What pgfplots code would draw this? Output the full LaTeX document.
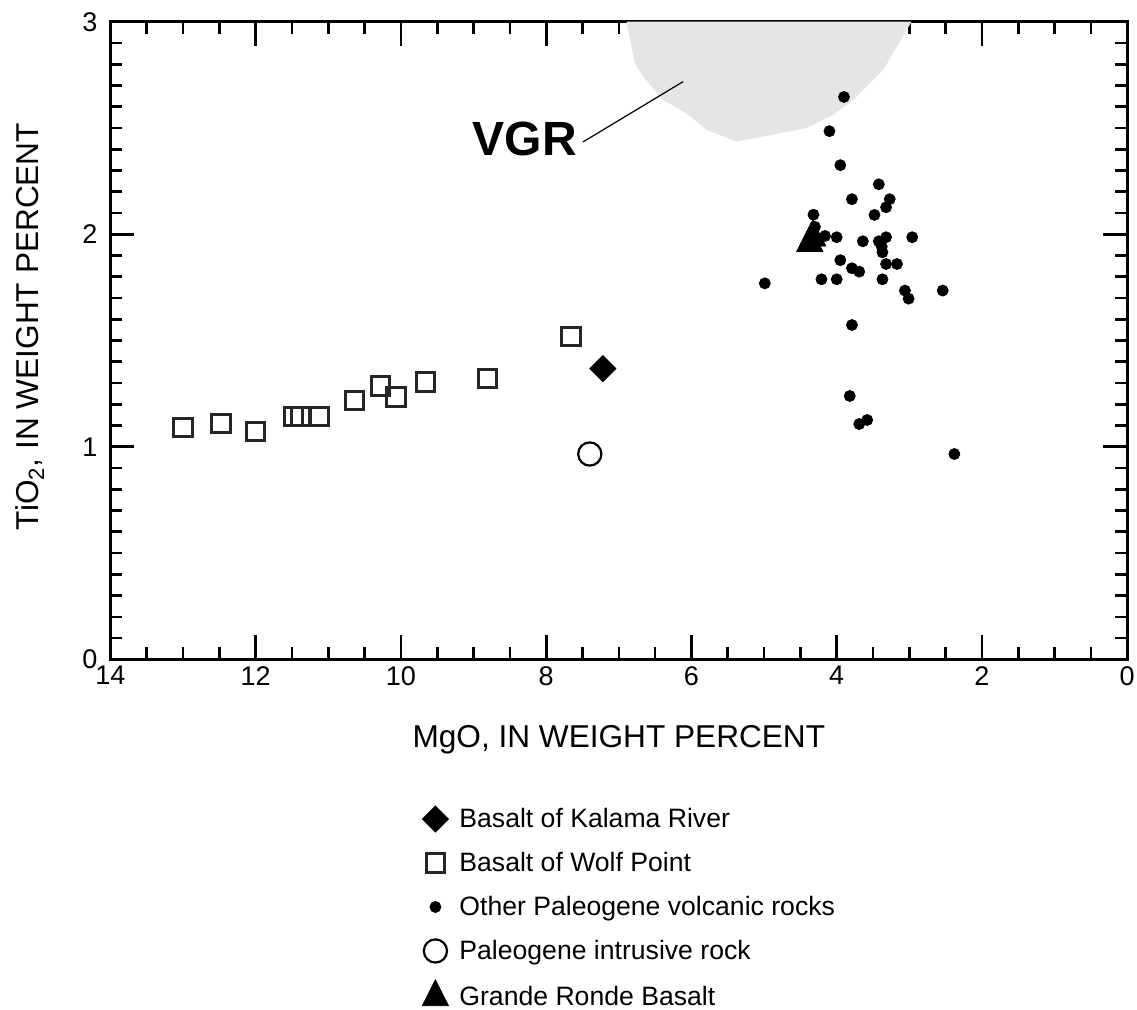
\documentclass[border=0pt]{standalone}
\usepackage{fontspec}
\setmainfont{Liberation Sans}
\usepackage{pgfplots}
\pgfplotsset{compat=1.18}

\begin{document}
\begin{tikzpicture}
\useasboundingbox (-55.25pt,-174.85pt) rectangle (513.25pt,329.65pt);
\begin{axis}[
  scale only axis, width=508.35pt, height=318.8pt,
  x dir=reverse, xmin=0, xmax=14, ymin=0, ymax=3,
  xtick={0,2,...,14}, ytick={0,1,2,3},
  minor x tick num=3, minor y tick num=9,
  major tick length=12pt, minor tick length=6pt,
  tick align=inside,
  axis line style={line width=1.5pt},
  every tick/.style={black, line width=1.3pt},
  xticklabel style={font=\fontsize{13.5}{16}\selectfont},
  yticklabel style={font=\fontsize{13.5}{16}\selectfont, xshift=-3pt},
  /pgf/number format/assume math mode=true,
  xlabel={MgO, IN WEIGHT PERCENT},
  ylabel={TiO\textsubscript{2}, IN WEIGHT PERCENT},
  label style={font=\fontsize{15.8}{19}\selectfont},
  xlabel style={at={(axis description cs:0.5,-0.1266)}, anchor=center},
  ylabel style={at={(axis description cs:-0.0792,0.522)}, anchor=center},
  legend cell align=left,
  legend style={at={(axis description cs:0.3005,-0.2199)}, anchor=north west,
    draw=none, fill=none, font=\fontsize{13.3}{16}\selectfont, row sep=6.85pt, column sep=3.5pt},
]
\addplot[fill=gray!20, draw=none, forget plot] coordinates {
 (6.894,3.0)(6.78,2.805)(6.665,2.742)(6.39,2.632)(6.07,2.569)(5.79,2.491)
 (5.38,2.436)(4.97,2.463)(4.42,2.499)(4.05,2.562)(3.77,2.632)(3.50,2.726)
 (3.36,2.773)(2.97,3.0)} -- cycle;

\addplot[only marks, mark=square*, mark size=4.6pt, mark options={rotate=45, fill=black, draw=black}]
 coordinates {(7.22,1.368)};
\addlegendentry{Basalt of Kalama River}

\addplot[only marks, mark=square, mark size=4.6pt, mark options={line width=1.5pt, draw=black!85}]
 coordinates {(13.0,1.090)(12.48,1.109)(12.0,1.071)(11.48,1.143)(11.38,1.143)(11.12,1.143)
 (10.64,1.217)(10.28,1.286)(10.07,1.234)(9.66,1.305)(8.81,1.322)(7.66,1.518)};
\addlegendentry{Basalt of Wolf Point}

\addplot[only marks, mark=*, mark size=2.75pt, black, mark options={fill=black}]
 coordinates {(3.90,2.646)(4.10,2.485)(3.95,2.325)(3.42,2.235)(3.79,2.165)(3.27,2.165)
 (3.32,2.127)(3.48,2.091)(4.32,2.092)(4.16,1.992)(4.00,1.986)(3.64,1.967)(3.42,1.967)
 (3.32,1.986)(2.96,1.986)(3.38,1.942)(3.37,1.915)(3.95,1.878)(3.32,1.860)(3.17,1.860)
 (3.79,1.840)(3.69,1.824)(4.99,1.769)(4.21,1.788)(4.00,1.788)(3.37,1.788)(3.06,1.735)
 (3.01,1.697)(2.54,1.735)(3.79,1.573)(3.82,1.239)(3.58,1.126)(3.69,1.107)(2.38,0.966)
 (4.30,2.035)};
\addlegendentry{Other Paleogene volcanic rocks}

\addplot[only marks, mark=o, mark size=5.8pt, black, mark options={line width=1.1pt}]
 coordinates {(7.40,0.966)};
\addlegendentry{Paleogene intrusive rock}

\addplot[only marks, mark=triangle*, mark size=7.5pt, black, mark options={yscale=1.15, fill=black}]
 coordinates {(4.37,1.96)(4.33,1.985)};
\addlegendentry{Grande Ronde Basalt}

\draw[line width=0.6pt] (axis cs:7.495,2.434) -- (axis cs:6.115,2.718);
\node[font=\fontsize{24}{27}\selectfont\bfseries, anchor=center] at (axis cs:8.294,2.446) {VGR};
\end{axis}
\end{tikzpicture}
\end{document}
